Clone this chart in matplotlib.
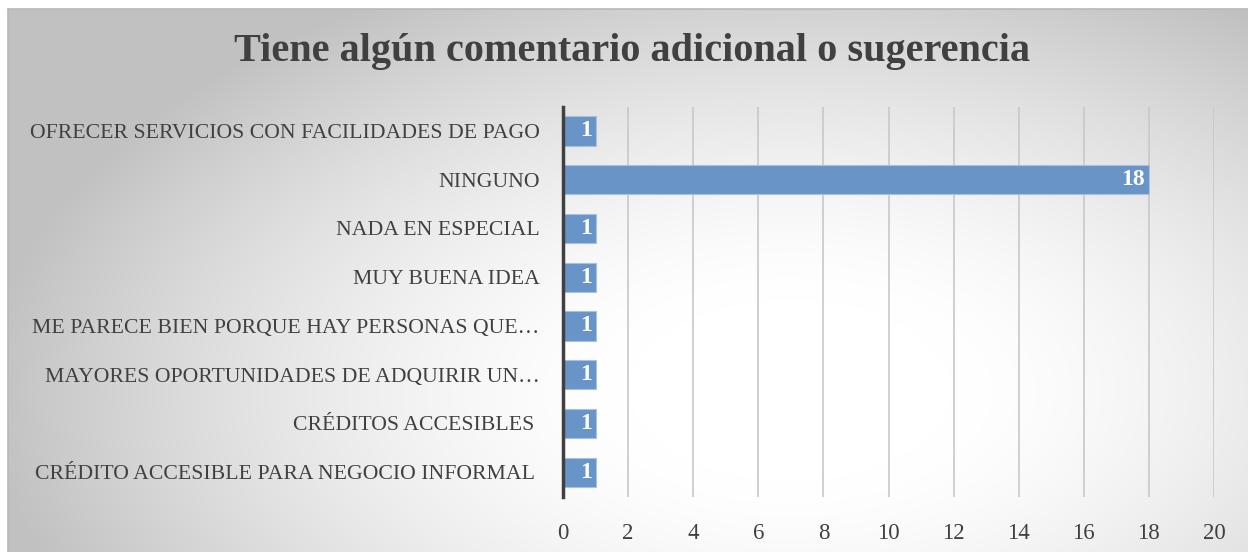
import matplotlib.pyplot as plt
import numpy as np

# Chart data
categories = [
    'CRÉDITO ACCESIBLE PARA NEGOCIO INFORMAL ',
    'CRÉDITOS ACCESIBLES ',
    'MAYORES OPORTUNIDADES DE ADQUIRIR UN…',
    'ME PARECE BIEN PORQUE HAY PERSONAS QUE…',
    'MUY BUENA IDEA',
    'NADA EN ESPECIAL',
    'NINGUNO',
    'OFRECER SERVICIOS CON FACILIDADES DE PAGO',
]
values = [1, 1, 1, 1, 1, 1, 18, 1]
xticks = [0, 2, 4, 6, 8, 10, 12, 14, 16, 18, 20]
title = 'Tiene algún comentario adicional o sugerencia'

serif = ['Liberation Serif', 'DejaVu Serif']
text_color = '#404040'
bar_color = '#6994c7'

W, H = 1248, 552
fig = plt.figure(figsize=(W / 100, H / 100), dpi=100)

# radial grey-to-white background of the chart area
bg = fig.add_axes([0, 0, 1, 1], zorder=-10)
yy, xx = np.mgrid[0:H, 0:W]
cx, cy = 790, 390
t = np.sqrt(((xx - cx) / 800.0) ** 2 + ((yy - cy) / 450.0) ** 2)
t = np.clip((t - 0.2) / 0.8, 0, 1)
shade = 1.0 - 0.24 * t ** 1.5
img = np.dstack([shade] * 3)
img[:9, :] = 1.0
img[:, :8] = 1.0
bg.imshow(img, extent=[0, W, H, 0], aspect='auto', interpolation='bilinear')
bg.plot([8, W], [9, 9], color='#b8b8b8', lw=1.2)
bg.plot([8, 8], [9, H], color='#b8b8b8', lw=1.2)
bg.set_xlim(0, W)
bg.set_ylim(H, 0)
bg.axis('off')

ax = fig.add_axes([563 / W, 1 - 496.5 / H, (1214 - 563) / W, (496.5 - 106.5) / H])
ax.patch.set_alpha(0)

y = np.arange(len(categories))
bars = ax.barh(y, values, height=0.6, color=bar_color, edgecolor='#a9c1e0',
               linewidth=0.8, zorder=3)
for rect, v in zip(bars, values):
    ax.text(rect.get_width() - 0.12, rect.get_y() + rect.get_height() / 2, str(v),
            ha='right', va='center', color='white', fontsize=17,
            fontweight='bold', family=serif, zorder=4)

ax.set_xlim(0, 20)
ax.set_ylim(-0.5, len(categories) - 0.5)
ax.set_xticks(xticks)
ax.set_xticklabels([str(v) for v in xticks], family=serif, fontsize=16.5,
                   color=text_color)
ax.set_yticks(y)
ax.set_yticklabels(categories, family=serif, fontsize=15.7, color=text_color)
ax.tick_params(axis='both', length=0)
ax.tick_params(axis='y', pad=17)
ax.tick_params(axis='x', pad=19)

ax.grid(axis='x', color='#c8c8c8', lw=1.2, zorder=0)
ax.set_axisbelow(True)
for side in ['top', 'right', 'bottom']:
    ax.spines[side].set_visible(False)
ax.spines['left'].set_color('#404040')
ax.spines['left'].set_linewidth(2.5)
ax.spines['left'].set_zorder(5)

fig.text(632 / W, 1 - 52 / H, title, ha='center', va='center', fontsize=29,
         fontweight='bold', color=text_color, family=serif)

fig.savefig('out.png', dpi=100)
